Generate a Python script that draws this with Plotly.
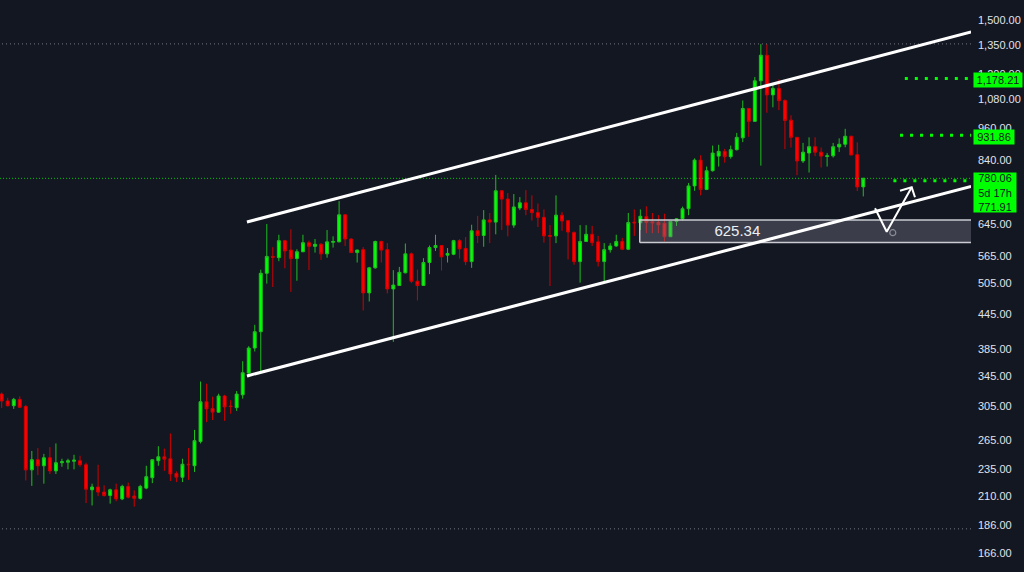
import numpy as np
import plotly.graph_objects as go

# ---------------- candle data (weekly) ----------------
opens = [320,311,305,313,304,234,244,238,246,233,
         241,241.5,242.5,243,239,215.5,218,213.5,210.5,215.5,
         207.5,218.5,210,208,217,226.5,243,247,245,230.5,
         227,239.5,238,263,310,301.5,297,317.5,304.5,302.5,
         319,349,387,414,527,565,562,603,580,560,
         576,598,589,594,571,599,600,671,607,574,
         581,486,539,601,581,494,501,528,571,510,
         501,551,586,591,568,570,603,584,553,628,
         616,657,651,741,716,643,690,705,686,677,
         664,616,615,670,655,624,553,601,619,600,
         553,581,590,601,582,651,649,666,652,650,
         648,613,653,660,688,756,841,745,805,855,
         872,853,878,922,1041,987,1167,1297,1101,1131,
         1076,992,924,838,866,889,869,854,856,888,
         898,928,860,753]
highs = [322,315,315,317,306,253,256,250,257,261,
         245,245,249,248,241,221,239,219.5,216.5,221,
         220,222,215,220,238,244.5,258,255.5,272,232.5,
         245,256,276,337,334,316.5,320.5,319,312,324,
         366.5,390,426,535,646,587,618,605,632,582,
         618,603,607,597,630,614,710,673,609,581,
         587,541,603,603,597,534,541,596,574,535,
         561,591,618,592,585,605,607,612,644,668,
         684,676,791,743,734,731,722,743,727,703,
         686,643,727,679,657,626,643,643,641,615,
         597,597,618,610,676,686,686,695,676,670,
         674,654,662,694,765,847,858,819,893,896,
         881,893,941,1076,1043,1185,1358,1358,1154,1174,
         1081,1012,925,903,924,924,886,866,903,920,
         957,930,905,782]
lows = [302,304,301,302,224,219,229,221,230,230,
        237,234.5,234.5,237,204,202,210,209.5,203.5,205.5,
        206.5,208,201,207,216,221.5,238,233,223.5,222.5,
        222.5,224.5,232,261,285,287.5,296,286.5,295,298.5,
        314,343,381.5,351,505,498,554,538,488,511,
        575,534,574,557,562,586,599,590,574,551,
        452,469,537,551,485,397,500,527,506,471,
        500,525,578,533,551,568,560,545,539,597,
        588,597,619,630,614,636,684,670,655,638,
        598,500,597,628,558,546,507,600,590,542,
        509,574,588,580,580,615,630,622,622,622,
        601,612,641,655,670,741,727,743,802,819,
        832,846,875,906,926,985,822,1023,1046,1034,
        880,886,790,831,799,855,816,819,850,870,
        887,858,740,724]
closes = [311,305,313,303,234,244,238,246,233,241,
          242,243,243.5,239,216,218,213.5,210.5,215.5,207.5,
          218.5,209,208,218.5,227.5,244,247,244.5,230,227,
          239.5,239,264,310,301,297,317.5,303.5,304,320,
          349.5,387,414,527,565,563,603,578,560,576,
          598,589,594,571,600,601,671,607,574,580,
          486,539,601,580,494,502,529,571,510,501,
          551,586,591,564,572,603,583,553,628,616,
          657,651,741,716,643,693,705,686,677,664,
          615,614,670,654,625,553,601,619,598,553,
          581,590,601,582,650,649,667,650,649,644,
          613,653,660,688,756,841,745,805,866,872,
          853,878,924,1041,987,1167,1297,1101,1131,1075,
          991,924,838,869,889,869,855,856,889,898,
          928,859,753,780.06]
bar_index = list(range(len(opens)))

# ---------------- price scale ----------------
price_ticks = [166, 186, 210, 235, 265, 305, 345, 385, 445, 505, 565, 645,
               840, 960, 1080, 1200, 1350, 1500]
tick_labels = [f"{v:,.2f}" for v in price_ticks]

# ---------------- drawings ----------------
upper_channel_x = [40.7, 160.9]
upper_channel_y = [651.4, 1427.6]
lower_channel_x = [40.7, 160.9]
lower_channel_y = [344.9, 754.4]

zone_start = 105.9
zone_low = 598.4
zone_high = 656.9
zone_label = 625.34
zone_label_x = 122.1

arrow_path_x = [144.95, 146.89, 151.04]
arrow_path_y = [689.4, 625.8, 751.6]
arrow_head_x = [149.1, 151.04, 151.58]
arrow_head_y = [741.2, 751.6, 721.4]
arrow_handle = (147.9, 623.2)

current_price = 780.06
level_prices = [1178.21, 931.86, 771.91]
level_starts = [149.9, 149.1, 148.0]
range_high = 1359
range_low = 183.4

X_MIN, X_MAX = -0.282, 160.88
X_END = 162

BG = "#131722"
GREEN = "#00ff00"
RED = "#ff0000"
FONT = "Liberation Sans, Arial, sans-serif"

fig = go.Figure()

fig.add_trace(go.Candlestick(
    x=bar_index, open=opens, high=highs, low=lows, close=closes,
    increasing=dict(line=dict(color="#1fbf1f", width=1), fillcolor=GREEN),
    decreasing=dict(line=dict(color="#d00000", width=1), fillcolor=RED),
    hoverinfo="skip", showlegend=False,
))

# range high/low dotted lines
for p in (range_high, range_low):
    fig.add_trace(go.Scatter(x=[X_MIN - 1, X_END], y=[p, p], mode="lines",
                             line=dict(color="#787b86", width=1, dash="1px,3px"),
                             hoverinfo="skip", showlegend=False))

# current price dotted line
fig.add_trace(go.Scatter(x=[X_MIN - 1, X_END], y=[current_price, current_price], mode="lines",
                         line=dict(color="rgba(0,230,0,0.85)", width=1, dash="1px,2px"),
                         hoverinfo="skip", showlegend=False))

# zone rectangle
fig.add_trace(go.Scatter(
    x=[zone_start, X_END, X_END, zone_start, zone_start],
    y=[zone_low, zone_low, zone_high, zone_high, zone_low],
    mode="lines", fill="toself", fillcolor="rgba(130,134,146,0.36)",
    line=dict(color="#c9cbd1", width=1.5),
    hoverinfo="skip", showlegend=False))
fig.add_trace(go.Scatter(x=[zone_label_x], y=[zone_label], mode="text",
                         text=[f"{zone_label:.2f}"],
                         textfont=dict(size=15, color="#eceef3", family=FONT),
                         textposition="middle center", hoverinfo="skip", showlegend=False))

# channel
for xs, ys in ((upper_channel_x, upper_channel_y), (lower_channel_x, lower_channel_y)):
    fig.add_trace(go.Scatter(x=xs, y=ys, mode="lines",
                             line=dict(color="#ffffff", width=3),
                             hoverinfo="skip", showlegend=False))

# levels (thick dots)
for p, s in zip(level_prices, level_starts):
    fig.add_trace(go.Scatter(x=[s, X_END], y=[p, p], mode="lines",
                             line=dict(color=GREEN, width=3, dash="3px,7px"),
                             hoverinfo="skip", showlegend=False))

# projected path arrow
fig.add_trace(go.Scatter(x=arrow_path_x, y=arrow_path_y, mode="lines",
                         line=dict(color="#ffffff", width=2),
                         hoverinfo="skip", showlegend=False))
fig.add_trace(go.Scatter(x=arrow_head_x, y=arrow_head_y, mode="lines",
                         line=dict(color="#ffffff", width=2),
                         hoverinfo="skip", showlegend=False))
fig.add_trace(go.Scatter(x=[arrow_handle[0]], y=[arrow_handle[1]], mode="markers",
                         marker=dict(symbol="circle-open", size=6, color="#8a8d96", line=dict(width=1.2)),
                         hoverinfo="skip", showlegend=False))

# axis price labels
label_font = dict(family=FONT, size=11, color="#131722")
fig.add_annotation(xref="paper", x=1, xanchor="left", xshift=2,
                   yref="y", y=np.log10(level_prices[0]), yanchor="middle", yshift=-2,
                   text=f"{level_prices[0]:,.2f}", showarrow=False, bgcolor=GREEN,
                   font=label_font, width=46, height=12, borderpad=1, align="center")
fig.add_annotation(xref="paper", x=1, xanchor="left", xshift=2,
                   yref="y", y=np.log10(level_prices[1]), yanchor="middle", yshift=-2,
                   text=f"{level_prices[1]:,.2f}", showarrow=False, bgcolor=GREEN,
                   font=label_font, width=38, height=12, borderpad=1, align="center")
fig.add_annotation(xref="paper", x=1, xanchor="left", xshift=2,
                   yref="y", y=np.log10(current_price), yanchor="top", yshift=6,
                   text=f"{current_price:,.2f}<br>5d 17h<br>{level_prices[2]:,.2f}",
                   showarrow=False, bgcolor=GREEN,
                   font=label_font, width=40, height=37, borderpad=1, align="center")

fig.update_layout(
    width=1024, height=572,
    margin=dict(l=0, r=53, t=0, b=0),
    paper_bgcolor=BG, plot_bgcolor=BG,
    showlegend=False, hovermode=False,
    xaxis=dict(range=[X_MIN, X_MAX], visible=False, showgrid=False, zeroline=False,
               rangeslider=dict(visible=False), fixedrange=True),
    yaxis=dict(type="log", range=[2.1860, 3.2120], side="right",
               tickmode="array", tickvals=price_ticks, ticktext=tick_labels,
               showgrid=False, zeroline=False, showline=False, ticks="",
               tickfont=dict(family=FONT, size=11, color="#e0e3eb"),
               ticklabelstandoff=6, fixedrange=True),
)

fig.write_html("out.html", config={"displayModeBar": False},
               post_script="document.body.style.margin='0';document.body.style.overflow='hidden';")
